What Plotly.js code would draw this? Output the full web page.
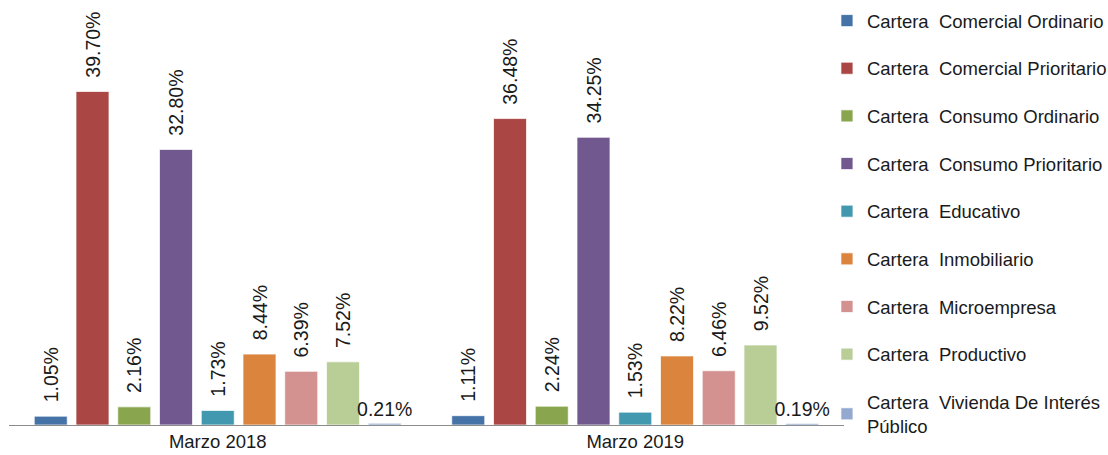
<!DOCTYPE html>
<html>
<head>
<meta charset="utf-8">
<script src="https://cdn.plot.ly/plotly-3.0.1.min.js"></script>
<style>html,body{margin:0;padding:0;background:#fff;}#chart{width:1108px;height:455px;}</style>
</head>
<body>
<div id="chart"></div>
<script>
const periods = ["Marzo 2018", "Marzo 2019"];
const seriesNames = [
  "Cartera  Comercial Ordinario",
  "Cartera  Comercial Prioritario",
  "Cartera  Consumo Ordinario",
  "Cartera  Consumo Prioritario",
  "Cartera  Educativo",
  "Cartera  Inmobiliario",
  "Cartera  Microempresa",
  "Cartera  Productivo",
  "Cartera  Vivienda De Interés<br>Público"
];
const values2018 = [1.05, 39.70, 2.16, 32.80, 1.73, 8.44, 6.39, 7.52, 0.21];
const values2019 = [1.11, 36.48, 2.24, 34.25, 1.53, 8.22, 6.46, 9.52, 0.19];
const colors = ["#4572A7", "#AA4643", "#89A54E", "#71588F", "#4198AF", "#DB843D", "#D39190", "#B9CD96", "#93A9CF"];

const FONT = "Liberation Sans, Arial, sans-serif";
const NB = "\u00a0\u00a0";
const traces = seriesNames.map((name, i) => {
  const rotated = i !== seriesNames.length - 1;
  const fmt = v => (rotated ? NB : "") + v.toFixed(2) + "%";
  return {
    type: "bar",
    name: name,
    x: periods,
    y: [values2018[i], values2019[i]],
    marker: {color: colors[i], line: {color: "rgba(255,255,255,0.7)", width: 1}},
    text: [fmt(values2018[i]), fmt(values2019[i])],
    textposition: "outside",
    textangle: rotated ? -90 : 0,
    constraintext: "none",
    cliponaxis: false,
    textfont: {family: FONT, size: 19.5, color: "#1a1a1a"},
    legendgroup: "g" + i,
    hoverinfo: "none"
  };
});

const layout = {
  width: 1108, height: 455,
  margin: {l: 9, r: 264, t: 5, b: 30, autoexpand: false},
  paper_bgcolor: "#fff", plot_bgcolor: "#fff",
  barmode: "group",
  bargap: 0.1,
  bargroupgap: 0.21,
  font: {family: FONT, size: 18.5, color: "#1a1a1a"},
  xaxis: {
    showline: true, linecolor: "#8c8c8c", linewidth: 1,
    ticks: "", showgrid: false, zeroline: false,
    tickfont: {family: FONT, size: 18.5, color: "#1a1a1a"}
  },
  yaxis: {range: [0, 50], visible: false, showgrid: false, zeroline: false},
  showlegend: true,
  legend: {
    x: 0.9796, xanchor: "left", y: 1.007, yanchor: "top",
    traceorder: "grouped", tracegroupgap: 20.6,
    font: {family: FONT, size: 18.5, color: "#1a1a1a"},
    itemwidth: 30, bgcolor: "rgba(0,0,0,0)", maxheight: 455
  }
};

Plotly.newPlot("chart", traces, layout, {displayModeBar: false, staticPlot: true});
</script>
</body>
</html>
